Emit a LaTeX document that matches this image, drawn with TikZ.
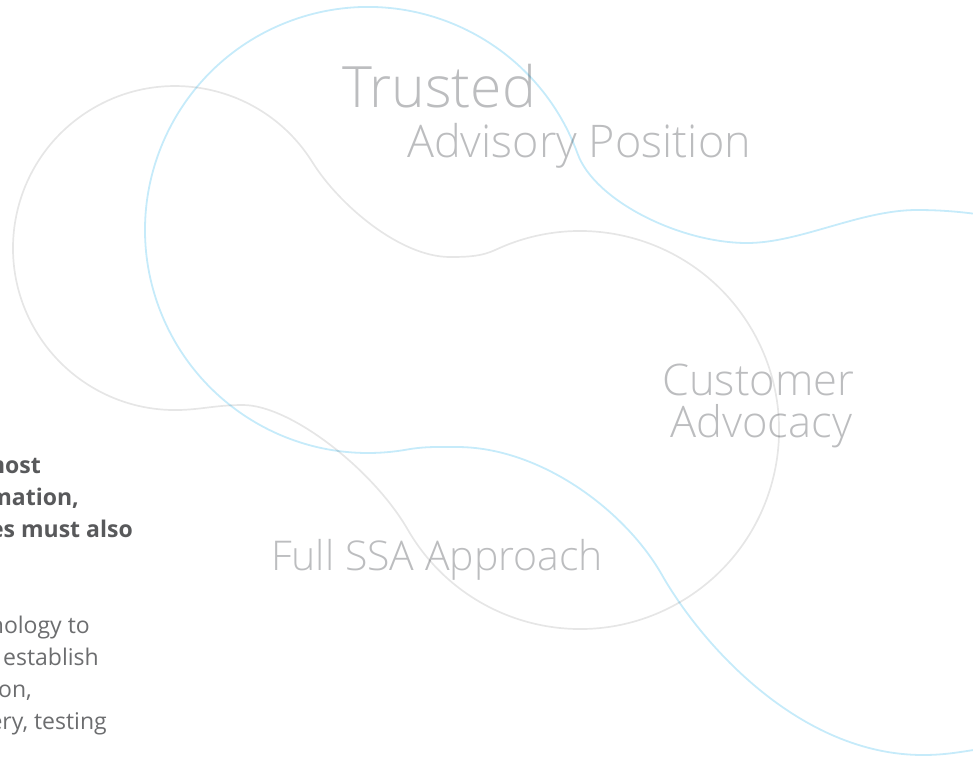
\documentclass[tikz,border=0pt]{standalone}
\usepackage{fontspec}
\setmainfont{Open Sans}
\IfFontExistsTF{Open Sans Light}{\newfontfamily\lightfont{Open Sans Light}}{\newfontfamily\lightfont{Open Sans}}
\definecolor{lblc}{RGB}{188,189,191}
\definecolor{darktxt}{RGB}{88,89,91}
\definecolor{midtxt}{RGB}{108,109,111}
\definecolor{bluec}{RGB}{198,235,250}
\definecolor{grayc}{RGB}{230,230,230}
\tikzset{
  biglabel/.style={inner sep=0pt, text=lblc, font=\lightfont\fontsize{57}{60}\selectfont},
  midlabel/.style={inner sep=0pt, text=lblc, font=\lightfont\fontsize{43.5}{46}\selectfont},
  boldtxt/.style={inner sep=0pt, text=darktxt, font=\bfseries\fontsize{23}{32}\selectfont, anchor=base east},
  bodytxt/.style={inner sep=0pt, text=midtxt, font=\fontsize{23}{32}\selectfont, anchor=base east},
  grayline/.style={draw=grayc, line width=1.7pt},
  blueline/.style={draw=bluec, line width=1.8pt},
}
\begin{document}
\begin{tikzpicture}[x=1pt, y=-1pt]
\useasboundingbox (0,0) rectangle (973,758);
\clip (0,0) rectangle (973,758);
% labels
\node[biglabel, anchor=base west] (trusted) at (342,107) {Trusted};
\node[midlabel, anchor=base west, font=\lightfont\fontsize{45}{48}\selectfont] (advisory) at (407,157) {Advisory Position};
\node[midlabel, anchor=base west] (customer) at (662,395) {Customer};
\node[midlabel, anchor=base west] (advocacy) at (670,437) {Advocacy};
\node[midlabel, anchor=base west, font=\lightfont\fontsize{41}{44}\selectfont] (fullssa) at (271,570) {Full SSA Approach};
% left text (cut by the left edge)
\node[boldtxt] (b1) at (41,473) {most};
\node[boldtxt] (b2) at (79,505) {mation,};
\node[boldtxt] (b3) at (133,537) {es must also};
\node[bodytxt] (r1) at (90,633) {hnology to};
\node[bodytxt] (r2) at (99,665) {establish};
\node[bodytxt] (r3) at (32,697) {on,};
\node[bodytxt] (r4) at (107,729) {ery, testing};
% curves
\begin{scope}[blend mode=multiply]
\draw[grayline] (312.4,162.2) arc[start angle=-32, end angle=-270, radius=162]
  .. controls (200,410) and (215,405) .. (243,405)
  .. controls (290,405) and (372.7,468.9) .. (407.7,529.5)
  arc[start angle=150, end angle=-115, radius=199]
  .. controls (482.3,256) and (470,257) .. (450,257)
  .. controls (400,257) and (338.9,204.6) .. (312.4,162.2) -- cycle;
\draw[blueline] (980,214.5) .. controls (955,211) and (935,210) .. (917,210)
  .. controls (860,210) and (800,243) .. (747,243)
  .. controls (680,243) and (594.6,200.7) .. (577.6,153.7)
  arc[start angle=-20, end angle=-280, radius=223]
  .. controls (425,446.3) and (440,447) .. (457,447)
  .. controls (540,447) and (625,510) .. (662,575)
  .. controls (702,645) and (800,755) .. (923,755)
  .. controls (945,755) and (960,752) .. (980,749);
\end{scope}
\end{tikzpicture}
\end{document}
